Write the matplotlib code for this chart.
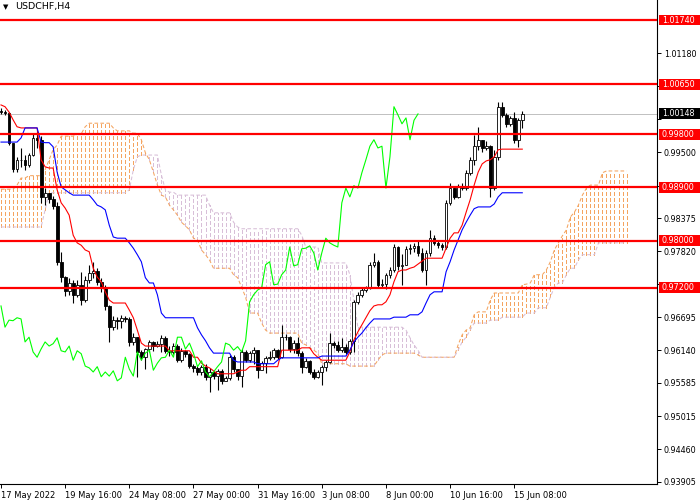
import matplotlib
matplotlib.use('Agg')
import matplotlib.pyplot as plt
from matplotlib.patches import Rectangle
from matplotlib.transforms import blended_transform_factory

# USDCHF H4, 17 May 2022 - 15 Jun 2022
first_open = 1.0020
closes = [1.0018, 1.0016, 0.9966, 0.9921, 0.9937, 0.9937, 0.9928, 0.9945, 0.9974, 0.9971,
          0.9874, 0.9881, 0.9871, 0.9859, 0.9764, 0.9738, 0.9714, 0.9728, 0.9708, 0.9725,
          0.9699, 0.9733, 0.9745, 0.9748, 0.9730, 0.9720, 0.9689, 0.9653, 0.9665, 0.9664,
          0.9669, 0.9667, 0.9628, 0.9636, 0.9611, 0.9602, 0.9616, 0.9628, 0.9621, 0.9625,
          0.9635, 0.9613, 0.9611, 0.9621, 0.9597, 0.9613, 0.9608, 0.9587, 0.9584, 0.9577,
          0.9586, 0.9569, 0.9577, 0.9570, 0.9579, 0.9562, 0.9567, 0.9602, 0.9582, 0.9570,
          0.9611, 0.9597, 0.9609, 0.9614, 0.9580, 0.9592, 0.9601, 0.9602, 0.9614, 0.9602,
          0.9636, 0.9636, 0.9616, 0.9626, 0.9609, 0.9586, 0.9596, 0.9577, 0.9569, 0.9577,
          0.9586, 0.9594, 0.9626, 0.9623, 0.9614, 0.9620, 0.9611, 0.9630, 0.9696, 0.9708,
          0.9716, 0.9720, 0.9759, 0.9764, 0.9725, 0.9726, 0.9742, 0.9750, 0.9789, 0.9757,
          0.9759, 0.9786, 0.9787, 0.9791, 0.9779, 0.9750, 0.9779, 0.9804, 0.9796, 0.9792,
          0.9789, 0.9864, 0.9889, 0.9874, 0.9893, 0.9889, 0.9915, 0.9937, 0.9960, 0.9971,
          0.9957, 0.9960, 0.9889, 0.9942, 1.0027, 1.0013, 0.9998, 1.0008, 0.9971, 1.0004,
          1.00148]
highs = [1.0025, 1.0021, 1.0018, 0.9966, 0.9942, 0.9957, 0.9945, 0.9949, 0.9982, 0.9986,
         0.9977, 0.9889, 0.9879, 0.9876, 0.9865, 0.9781, 0.9740, 0.9737, 0.9733, 0.9733,
         0.9747, 0.9740, 0.9759, 0.9764, 0.9753, 0.9737, 0.9725, 0.9691, 0.9672, 0.9670,
         0.9674, 0.9672, 0.9670, 0.9643, 0.9636, 0.9614, 0.9618, 0.9631, 0.9630, 0.9630,
         0.9640, 0.9638, 0.9621, 0.9626, 0.9625, 0.9618, 0.9614, 0.9609, 0.9591, 0.9587,
         0.9589, 0.9591, 0.9584, 0.9579, 0.9582, 0.9582, 0.9570, 0.9606, 0.9606, 0.9580,
         0.9616, 0.9614, 0.9613, 0.9620, 0.9614, 0.9596, 0.9604, 0.9613, 0.9618, 0.9616,
         0.9657, 0.9642, 0.9638, 0.9631, 0.9636, 0.9613, 0.9601, 0.9597, 0.9582, 0.9580,
         0.9589, 0.9597, 0.9643, 0.9630, 0.9630, 0.9635, 0.9625, 0.9633, 0.9699, 0.9713,
         0.9721, 0.9723, 0.9764, 0.9779, 0.9767, 0.9735, 0.9745, 0.9755, 0.9794, 0.9791,
         0.9777, 0.9791, 0.9794, 0.9796, 0.9799, 0.9787, 0.9784, 0.9818, 0.9809, 0.9799,
         0.9796, 0.9869, 0.9898, 0.9893, 0.9896, 0.9898, 0.9920, 0.9942, 0.9979, 0.9993,
         0.9971, 0.9969, 0.9962, 0.9954, 1.0035, 1.0035, 1.0016, 1.0011, 1.0018, 1.0008,
         1.0020]
lows = [1.0015, 1.0013, 0.9962, 0.9916, 0.9916, 0.9925, 0.9920, 0.9925, 0.9943, 0.9957,
        0.9864, 0.9860, 0.9864, 0.9854, 0.9759, 0.9730, 0.9706, 0.9708, 0.9694, 0.9704,
        0.9691, 0.9696, 0.9728, 0.9737, 0.9725, 0.9713, 0.9682, 0.9628, 0.9648, 0.9650,
        0.9652, 0.9662, 0.9621, 0.9623, 0.9569, 0.9597, 0.9582, 0.9611, 0.9613, 0.9620,
        0.9611, 0.9609, 0.9604, 0.9608, 0.9594, 0.9594, 0.9602, 0.9584, 0.9577, 0.9572,
        0.9572, 0.9564, 0.9543, 0.9565, 0.9547, 0.9557, 0.9562, 0.9564, 0.9577, 0.9564,
        0.9552, 0.9594, 0.9594, 0.9591, 0.9567, 0.9584, 0.9575, 0.9597, 0.9599, 0.9599,
        0.9601, 0.9631, 0.9611, 0.9609, 0.9604, 0.9575, 0.9584, 0.9574, 0.9565, 0.9567,
        0.9555, 0.9579, 0.9592, 0.9618, 0.9611, 0.9611, 0.9608, 0.9608, 0.9611, 0.9692,
        0.9704, 0.9713, 0.9718, 0.9755, 0.9720, 0.9720, 0.9718, 0.9737, 0.9747, 0.9750,
        0.9725, 0.9769, 0.9777, 0.9781, 0.9774, 0.9747, 0.9725, 0.9774, 0.9792, 0.9787,
        0.9784, 0.9786, 0.9860, 0.9871, 0.9872, 0.9886, 0.9886, 0.9911, 0.9928, 0.9954,
        0.9950, 0.9954, 0.9874, 0.9886, 0.9937, 1.0010, 0.9993, 0.9994, 0.9966, 0.9959,
        0.9991]

# Ichimoku lines as displayed
tenkan = [1.0030, 1.0027, 1.0018, 1.0005, 0.9993, 0.9991, 0.9991, 0.9991, 0.9991, 0.9991,
          0.9937, 0.9925, 0.9923, 0.9923, 0.9886, 0.9864, 0.9855, 0.9843, 0.9809, 0.9796,
          0.9792, 0.9784, 0.9781, 0.9753, 0.9738, 0.9730, 0.9713, 0.9699, 0.9694, 0.9694,
          0.9694, 0.9694, 0.9682, 0.9669, 0.9648, 0.9626, 0.9621, 0.9621, 0.9621, 0.9621,
          0.9621, 0.9621, 0.9613, 0.9613, 0.9613, 0.9613, 0.9613, 0.9613, 0.9602, 0.9602,
          0.9592, 0.9587, 0.9584, 0.9579, 0.9574, 0.9574, 0.9574, 0.9574, 0.9574, 0.9577,
          0.9580, 0.9580, 0.9586, 0.9586, 0.9586, 0.9586, 0.9586, 0.9586, 0.9586, 0.9586,
          0.9614, 0.9614, 0.9614, 0.9614, 0.9614, 0.9618, 0.9618, 0.9618, 0.9608, 0.9602,
          0.9597, 0.9597, 0.9597, 0.9597, 0.9597, 0.9597, 0.9597, 0.9611, 0.9631, 0.9645,
          0.9657, 0.9669, 0.9681, 0.9689, 0.9691, 0.9691, 0.9696, 0.9708, 0.9730, 0.9747,
          0.9750, 0.9750, 0.9753, 0.9755, 0.9760, 0.9765, 0.9770, 0.9770, 0.9770, 0.9770,
          0.9770, 0.9787, 0.9804, 0.9813, 0.9813, 0.9826, 0.9848, 0.9869, 0.9894, 0.9916,
          0.9930, 0.9935, 0.9937, 0.9942, 0.9954, 0.9955, 0.9955, 0.9955, 0.9955, 0.9955,
          0.9955]
kijun = [0.9967, 0.9967, 0.9967, 0.9967, 0.9967, 0.9974, 0.9991, 0.9991, 0.9991, 0.9991,
         0.9967, 0.9966, 0.9966, 0.9959, 0.9916, 0.9891, 0.9886, 0.9881, 0.9877, 0.9877,
         0.9877, 0.9877, 0.9877, 0.9869, 0.9860, 0.9857, 0.9852, 0.9826, 0.9806, 0.9804,
         0.9804, 0.9804, 0.9796, 0.9787, 0.9776, 0.9764, 0.9737, 0.9728, 0.9728, 0.9708,
         0.9677, 0.9669, 0.9669, 0.9669, 0.9669, 0.9669, 0.9669, 0.9669, 0.9669, 0.9652,
         0.9640, 0.9630, 0.9618, 0.9609, 0.9609, 0.9609, 0.9609, 0.9609, 0.9597, 0.9594,
         0.9594, 0.9594, 0.9594, 0.9594, 0.9591, 0.9591, 0.9591, 0.9591, 0.9591, 0.9597,
         0.9601, 0.9601, 0.9601, 0.9601, 0.9601, 0.9601, 0.9601, 0.9601, 0.9601, 0.9601,
         0.9604, 0.9604, 0.9604, 0.9604, 0.9604, 0.9604, 0.9604, 0.9614, 0.9628, 0.9636,
         0.9643, 0.9652, 0.9660, 0.9667, 0.9667, 0.9667, 0.9667, 0.9667, 0.9670, 0.9670,
         0.9670, 0.9670, 0.9674, 0.9674, 0.9674, 0.9679, 0.9694, 0.9708, 0.9713, 0.9713,
         0.9713, 0.9747, 0.9764, 0.9784, 0.9801, 0.9818, 0.9831, 0.9843, 0.9854, 0.9857,
         0.9857, 0.9857, 0.9857, 0.9862, 0.9874, 0.9881, 0.9881, 0.9881, 0.9881, 0.9881,
         0.9881]
# cloud spans, 26 bars past the last candle
span_a = [0.9887, 0.9887, 0.9887, 0.9887, 0.9894, 0.9906, 0.9906, 0.9910, 0.9910, 0.9910,
          0.9910, 0.9920, 0.9937, 0.9954, 0.9962, 0.9977, 0.9977, 0.9977, 0.9977, 0.9981,
          0.9981, 0.9993, 0.9999, 0.9999, 0.9999, 0.9999, 0.9999, 0.9999, 0.9991, 0.9986,
          0.9986, 0.9986, 0.9986, 0.9982, 0.9982, 0.9971, 0.9949, 0.9937, 0.9916, 0.9894,
          0.9877, 0.9874, 0.9860, 0.9852, 0.9843, 0.9831, 0.9825, 0.9818, 0.9804, 0.9801,
          0.9784, 0.9776, 0.9767, 0.9753, 0.9753, 0.9753, 0.9753, 0.9753, 0.9742, 0.9737,
          0.9721, 0.9704, 0.9677, 0.9677, 0.9677, 0.9660, 0.9648, 0.9643, 0.9643, 0.9643,
          0.9643, 0.9643, 0.9643, 0.9643, 0.9643, 0.9626, 0.9623, 0.9618, 0.9614, 0.9609,
          0.9591, 0.9591, 0.9591, 0.9591, 0.9591, 0.9591, 0.9591, 0.9587, 0.9587, 0.9587,
          0.9587, 0.9587, 0.9587, 0.9587, 0.9597, 0.9606, 0.9609, 0.9609, 0.9609, 0.9609,
          0.9609, 0.9609, 0.9609, 0.9609, 0.9606, 0.9602, 0.9602, 0.9602, 0.9602, 0.9602,
          0.9602, 0.9602, 0.9602, 0.9602, 0.9623, 0.9640, 0.9648, 0.9652, 0.9674, 0.9679,
          0.9679, 0.9679, 0.9699, 0.9711, 0.9711, 0.9711, 0.9711, 0.9711, 0.9711, 0.9711,
          0.9725, 0.9726, 0.9728, 0.9742, 0.9742, 0.9742, 0.9750, 0.9764, 0.9784, 0.9796,
          0.9808, 0.9818, 0.9840, 0.9848, 0.9860, 0.9877, 0.9889, 0.9894, 0.9894, 0.9894,
          0.9915, 0.9918, 0.9918, 0.9918, 0.9918, 0.9918, 0.9918]
span_b = [0.9823, 0.9823, 0.9823, 0.9823, 0.9823, 0.9823, 0.9823, 0.9823, 0.9823, 0.9823,
          0.9823, 0.9852, 0.9881, 0.9881, 0.9881, 0.9881, 0.9881, 0.9881, 0.9881, 0.9881,
          0.9881, 0.9881, 0.9881, 0.9881, 0.9881, 0.9881, 0.9881, 0.9881, 0.9881, 0.9881,
          0.9881, 0.9881, 0.9886, 0.9920, 0.9942, 0.9945, 0.9945, 0.9945, 0.9945, 0.9945,
          0.9911, 0.9886, 0.9882, 0.9882, 0.9877, 0.9877, 0.9877, 0.9877, 0.9877, 0.9877,
          0.9877, 0.9877, 0.9860, 0.9847, 0.9847, 0.9847, 0.9847, 0.9847, 0.9831, 0.9823,
          0.9820, 0.9820, 0.9820, 0.9820, 0.9820, 0.9820, 0.9820, 0.9820, 0.9820, 0.9820,
          0.9820, 0.9820, 0.9820, 0.9820, 0.9820, 0.9809, 0.9789, 0.9789, 0.9789, 0.9789,
          0.9762, 0.9762, 0.9762, 0.9762, 0.9762, 0.9762, 0.9762, 0.9742, 0.9699, 0.9653,
          0.9653, 0.9653, 0.9653, 0.9653, 0.9653, 0.9653, 0.9653, 0.9653, 0.9653, 0.9653,
          0.9653, 0.9648, 0.9635, 0.9623, 0.9614, 0.9602, 0.9602, 0.9602, 0.9602, 0.9602,
          0.9602, 0.9602, 0.9602, 0.9602, 0.9614, 0.9628, 0.9636, 0.9648, 0.9660, 0.9660,
          0.9660, 0.9660, 0.9665, 0.9665, 0.9665, 0.9670, 0.9670, 0.9670, 0.9670, 0.9670,
          0.9670, 0.9677, 0.9677, 0.9677, 0.9686, 0.9686, 0.9686, 0.9704, 0.9721, 0.9728,
          0.9728, 0.9742, 0.9753, 0.9753, 0.9767, 0.9776, 0.9776, 0.9776, 0.9776, 0.9796,
          0.9796, 0.9796, 0.9796, 0.9796, 0.9796, 0.9796, 0.9796]
chikou_shift = 26

levels = [1.0174, 1.0065, 0.9980, 0.9890, 0.9800, 0.9720]
level_labels = ['1.01740', '1.00650', '0.99800', '0.98900', '0.98000', '0.97200']
last_price = 1.00148
price_ticks = [0.93905, 0.94460, 0.95015, 0.95585, 0.96140, 0.96695, 0.97265,
               0.97820, 0.98375, 0.98930, 0.99500, 1.00055, 1.00625, 1.01180]
# labels of these ticks sit under the level boxes
hidden_ticks = [0.97265, 0.98930, 1.00055, 1.00625]
date_ticks = [0, 16, 32, 48, 64, 80, 96, 112, 128]
date_labels = ['17 May 2022', '19 May 16:00', '24 May 08:00', '27 May 00:00',
               '31 May 16:00', '3 Jun 08:00', '8 Jun 00:00', '10 Jun 16:00',
               '15 Jun 08:00']

SANDY = '#F4A460'
THISTLE = '#D8BFD8'
DOTS = (0, (3.5, 2.2))

fig = plt.figure(figsize=(7, 5), dpi=100)
ax = fig.add_axes([0, 16 / 500, 657 / 700, 484 / 500])
ax.set_xlim(-0.25, 163.6)
ax.set_ylim(0.9387, 1.0208)

# cloud: dotted histogram between the spans
up_x, up_lo, up_hi, dn_x, dn_lo, dn_hi = [], [], [], [], [], []
for i, (a, b) in enumerate(zip(span_a, span_b)):
    if abs(a - b) < 1e-6:
        continue
    if a > b:
        up_x.append(i); up_lo.append(b); up_hi.append(a)
    else:
        dn_x.append(i); dn_lo.append(a); dn_hi.append(b)
ax.vlines(up_x, up_lo, up_hi, colors=SANDY, linewidth=0.75, linestyles=DOTS,
          antialiased=False, zorder=1)
ax.vlines(dn_x, dn_lo, dn_hi, colors=THISTLE, linewidth=0.75, linestyles=DOTS,
          antialiased=False, zorder=1)
xs_cloud = list(range(len(span_a)))
ax.plot(xs_cloud, span_a, color=SANDY, linewidth=0.75, linestyle=DOTS, zorder=1)
ax.plot(xs_cloud, span_b, color=THISTLE, linewidth=0.75, linestyle=DOTS, zorder=1)

# bid line
ax.axhline(last_price, color='#C0C0C0', linewidth=0.7, zorder=1.5)

# candles
opens = [first_open] + closes[:-1]
xs = list(range(len(closes)))
wick_lo = [min(l, o, c) for l, o, c in zip(lows, opens, closes)]
wick_hi = [max(h, o, c) for h, o, c in zip(highs, opens, closes)]
ax.vlines(xs, wick_lo, wick_hi, colors='black', linewidth=0.8, zorder=2)
bottoms = [min(o, c) for o, c in zip(opens, closes)]
heights = [abs(c - o) for o, c in zip(opens, closes)]
faces = ['white' if c >= o else 'black' for o, c in zip(opens, closes)]
ax.bar(xs, heights, bottom=bottoms, width=0.7, color=faces, edgecolor='black',
       linewidth=0.6, zorder=2.1)

# tenkan, kijun, chikou
ax.plot(xs, tenkan, color='#FF0000', linewidth=0.8, zorder=3)
ax.plot(xs, kijun, color='#0000FF', linewidth=0.8, zorder=3)
chikou_x = list(range(len(closes) - chikou_shift))
ax.plot(chikou_x, closes[chikou_shift:], color='#00FF00', linewidth=0.8, zorder=3)

# support / resistance levels
for lv in levels:
    ax.axhline(lv, color='#FF0000', linewidth=1.6, zorder=4)

# axes look
for side in ['top', 'left']:
    ax.spines[side].set_visible(False)
for side in ['right', 'bottom']:
    ax.spines[side].set_linewidth(0.8)
ax.yaxis.tick_right()
ax.set_yticks(price_ticks)
ax.set_yticklabels(['' if t in hidden_ticks else '%.5f' % t for t in price_ticks])
ax.tick_params(axis='y', direction='out', length=3, width=0.7, pad=2, labelsize=5.8)
ax.set_xticks(date_ticks)
ax.set_xticklabels(date_labels, ha='left')
ax.tick_params(axis='x', direction='out', length=3, width=0.7, pad=2, labelsize=6)

# price boxes on the right scale
box_tr = blended_transform_factory(fig.transFigure, ax.transData)
box_h = 0.00185
for lv, lab, fc in zip(levels + [last_price], level_labels + ['%.5f' % last_price],
                       ['#FF0000'] * len(levels) + ['black']):
    fig.patches.append(Rectangle((659 / 700, lv - box_h / 2), 41 / 700, box_h,
                                 transform=box_tr, facecolor=fc, edgecolor='none', zorder=9))
    fig.text(662 / 700, lv, lab, transform=box_tr, color='white', fontsize=5.8,
             va='center', ha='left', zorder=10)

ax.text(6 / 657, 1 - 7 / 484, '\u25bc', transform=ax.transAxes, fontsize=5, va='center', ha='center')
ax.text(15 / 657, 1 - 7 / 484, 'USDCHF,H4', transform=ax.transAxes, fontsize=6.8, va='center', ha='left')

fig.savefig('out.png', dpi=100)
